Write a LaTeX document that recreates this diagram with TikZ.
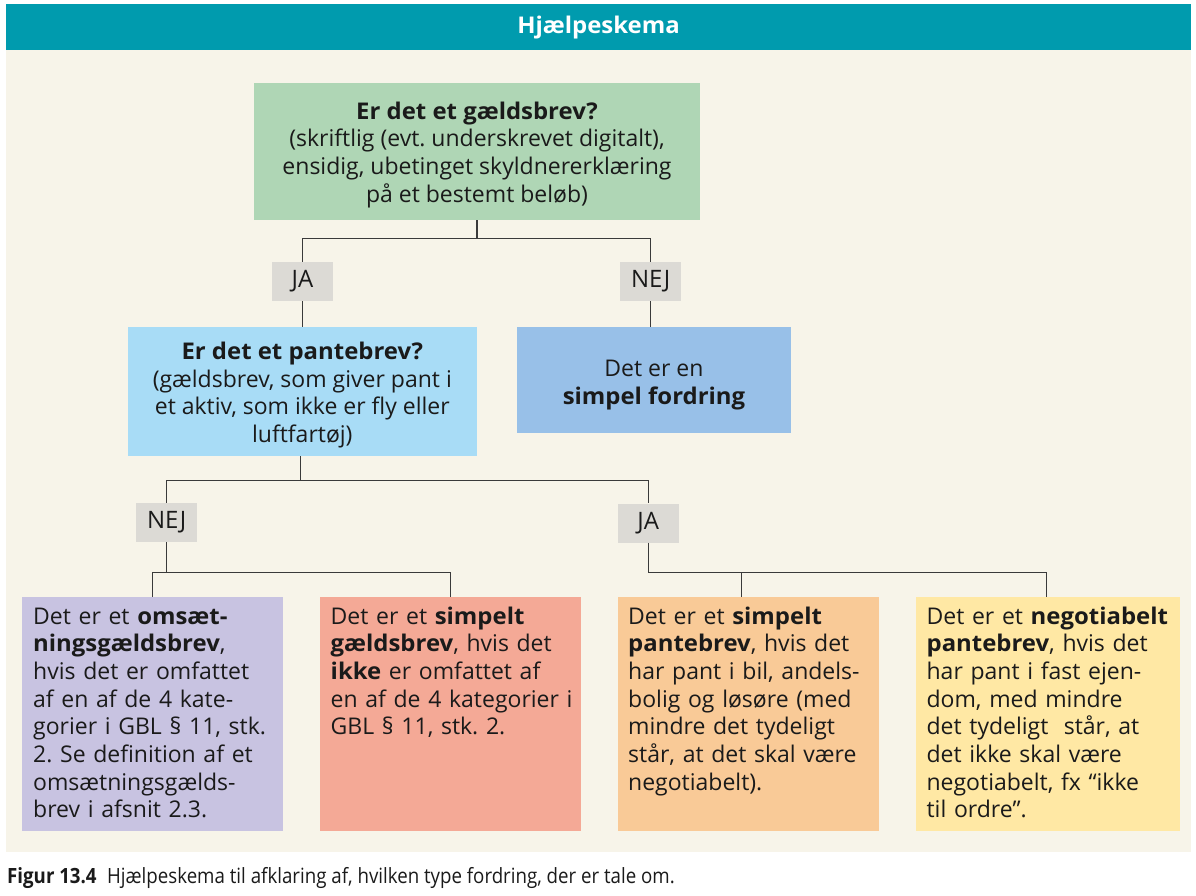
\documentclass[tikz,border=0pt]{standalone}
\usepackage{fontspec}
\setmainfont{Open Sans}[BoldFeatures={FakeStretch=1.04}]
\newfontfamily\capfont[FakeStretch=0.89]{Open Sans}
\usetikzlibrary{positioning}
\frenchspacing

\definecolor{hdrteal}{HTML}{009BAE}
\definecolor{cream}{HTML}{F7F4E9}
\definecolor{qgreen}{HTML}{AFD6B5}
\definecolor{qblue}{HTML}{A8DCF6}
\definecolor{ablue}{HTML}{98C0E8}
\definecolor{lblgrey}{HTML}{DCDAD5}
\definecolor{apurple}{HTML}{C8C3E1}
\definecolor{asalmon}{HTML}{F4A996}
\definecolor{aorange}{HTML}{F9CA97}
\definecolor{ayellow}{HTML}{FFE8A4}
\definecolor{txt}{HTML}{1A1A1A}
\definecolor{linegrey}{HTML}{3A3A3A}

\tikzset{
  qbox/.style={rectangle, inner sep=0pt, align=center, text=txt,
    font=\fontsize{23}{27.7}\selectfont},
  lbl/.style={rectangle, fill=lblgrey, inner sep=0pt, minimum width=61,
    minimum height=39, text=txt, font=\fontsize{24}{28}\selectfont},
  abox/.style={rectangle, inner sep=0pt, anchor=north west,
    minimum width=261, minimum height=233.5},
  atext/.style={anchor=base west, inner sep=0pt, text width=258,
    align=left, text=txt, font=\fontsize{23}{27.7}\selectfont},
  conn/.style={draw=linegrey, line width=1.3pt}
}

\begin{document}
\begin{tikzpicture}[x=1pt,y=-1pt]
\useasboundingbox (0,0) rectangle (1196,896);
\fill[white] (0,0) rectangle (1196,896);
\fill[hdrteal] (6,4) rectangle (1191,50);
\fill[cream] (6,50) rectangle (1191,852);
\node[text=white, font=\fontsize{23}{26}\selectfont\bfseries] (title) at (598.5,27.5) {Hjælpeskema};

% spørgsmål
\node[qbox, fill=qgreen, minimum width=446, minimum height=137] (gb) at (477,151.5)
  {\rule{0pt}{24pt}\textbf{Er det et gældsbrev?}\\(skriftlig (evt. underskrevet digitalt),\\ensidig, ubetinget skyldnererklæring\\på et bestemt beløb)};
\node[lbl] (ja1) at (302.5,281.5) {JA};
\node[lbl] (nej1) at (650.7,281.5) {NEJ};
\node[qbox, fill=qblue, minimum width=349, minimum height=129] (pb) at (302.3,391.5)
  {\rule{0pt}{24.5pt}\textbf{Er det et pantebrev?}\\(gældsbrev, som giver pant i\\et aktiv, som ikke er fly eller\\luftfartøj)};
\node[qbox, fill=ablue, minimum width=274, minimum height=106] (sf) at (654,380)
  {\rule{0pt}{26pt}Det er en\\\textbf{simpel fordring}};
\node[lbl] (nej2) at (166.7,522.5) {NEJ};
\node[lbl] (ja2) at (648.2,523) {JA};

% svar
\node[abox, fill=apurple] (omsaet) at (22,597) {};
\node[abox, fill=asalmon] (simgb) at (320,597) {};
\node[abox, fill=aorange] (simpb) at (618,597) {};
\node[abox, fill=ayellow, minimum width=264] (negpb) at (916,597) {};

\node[atext] (omsaet-t) at (33,624)
  {Det er et \textbf{omsæt-}\\\textbf{ningsgældsbrev},\\hvis det er omfattet\\af en af de 4 kate-\\gorier i GBL § 11, stk.\\2. Se definition af et\\omsætningsgælds-\\brev i afsnit 2.3.};
\node[atext] (simgb-t) at (330.5,624)
  {Det er et \textbf{simpelt}\\\textbf{gældsbrev}, hvis det\\\textbf{ikke} er omfattet af\\en af de 4 kategorier i\\GBL § 11, stk. 2.};
\node[atext] (simpb-t) at (628,624)
  {Det er et \textbf{simpelt}\\\textbf{pantebrev}, hvis det\\har pant i bil, andels-\\bolig og løsøre (med\\mindre det tydeligt\\står, at det skal være\\negotiabelt).};
\node[atext] (negpb-t) at (926.4,624)
  {Det er et \textbf{negotiabelt}\\\textbf{pantebrev}, hvis det\\har pant i fast ejen-\\dom, med mindre\\det tydeligt~ står, at\\det ikke skal være\\negotiabelt, fx “ikke\\til ordre”.};

% forbindelser
\draw[conn] (gb.south) -- ++(0,18.5) coordinate (j1);
\draw[conn] (ja1) |- (j1) -| (nej1);
\draw[conn] (ja1.south) -- (ja1.south |- pb.north);
\draw[conn] (nej1.south) -- (nej1.south |- sf.north);
\draw[conn] ([xshift=-2pt]pb.south) -- ++(0,24) coordinate (j2);
\draw[conn] (nej2) |- (j2) -| (ja2);
\draw[conn] (nej2.south) -- ++(0,30.5) coordinate (j3);
\draw[conn] (omsaet) |- (j3) -| (simgb);
\draw[conn] (ja2.south) -- ++(0,29.5) coordinate (j4);
\draw[conn] (j4) -| ([xshift=-2pt]negpb.north);
\draw[conn] ([xshift=-7.5pt]simpb.north) |- (j4);

\node[anchor=base west, inner sep=0pt, text=txt, font=\capfont\fontsize{21}{24}\selectfont] (caption) at (7,883)
  {\textbf{Figur 13.4}\hspace{0.5em}Hjælpeskema til afklaring af, hvilken type fordring, der er tale om.};
\end{tikzpicture}
\end{document}
